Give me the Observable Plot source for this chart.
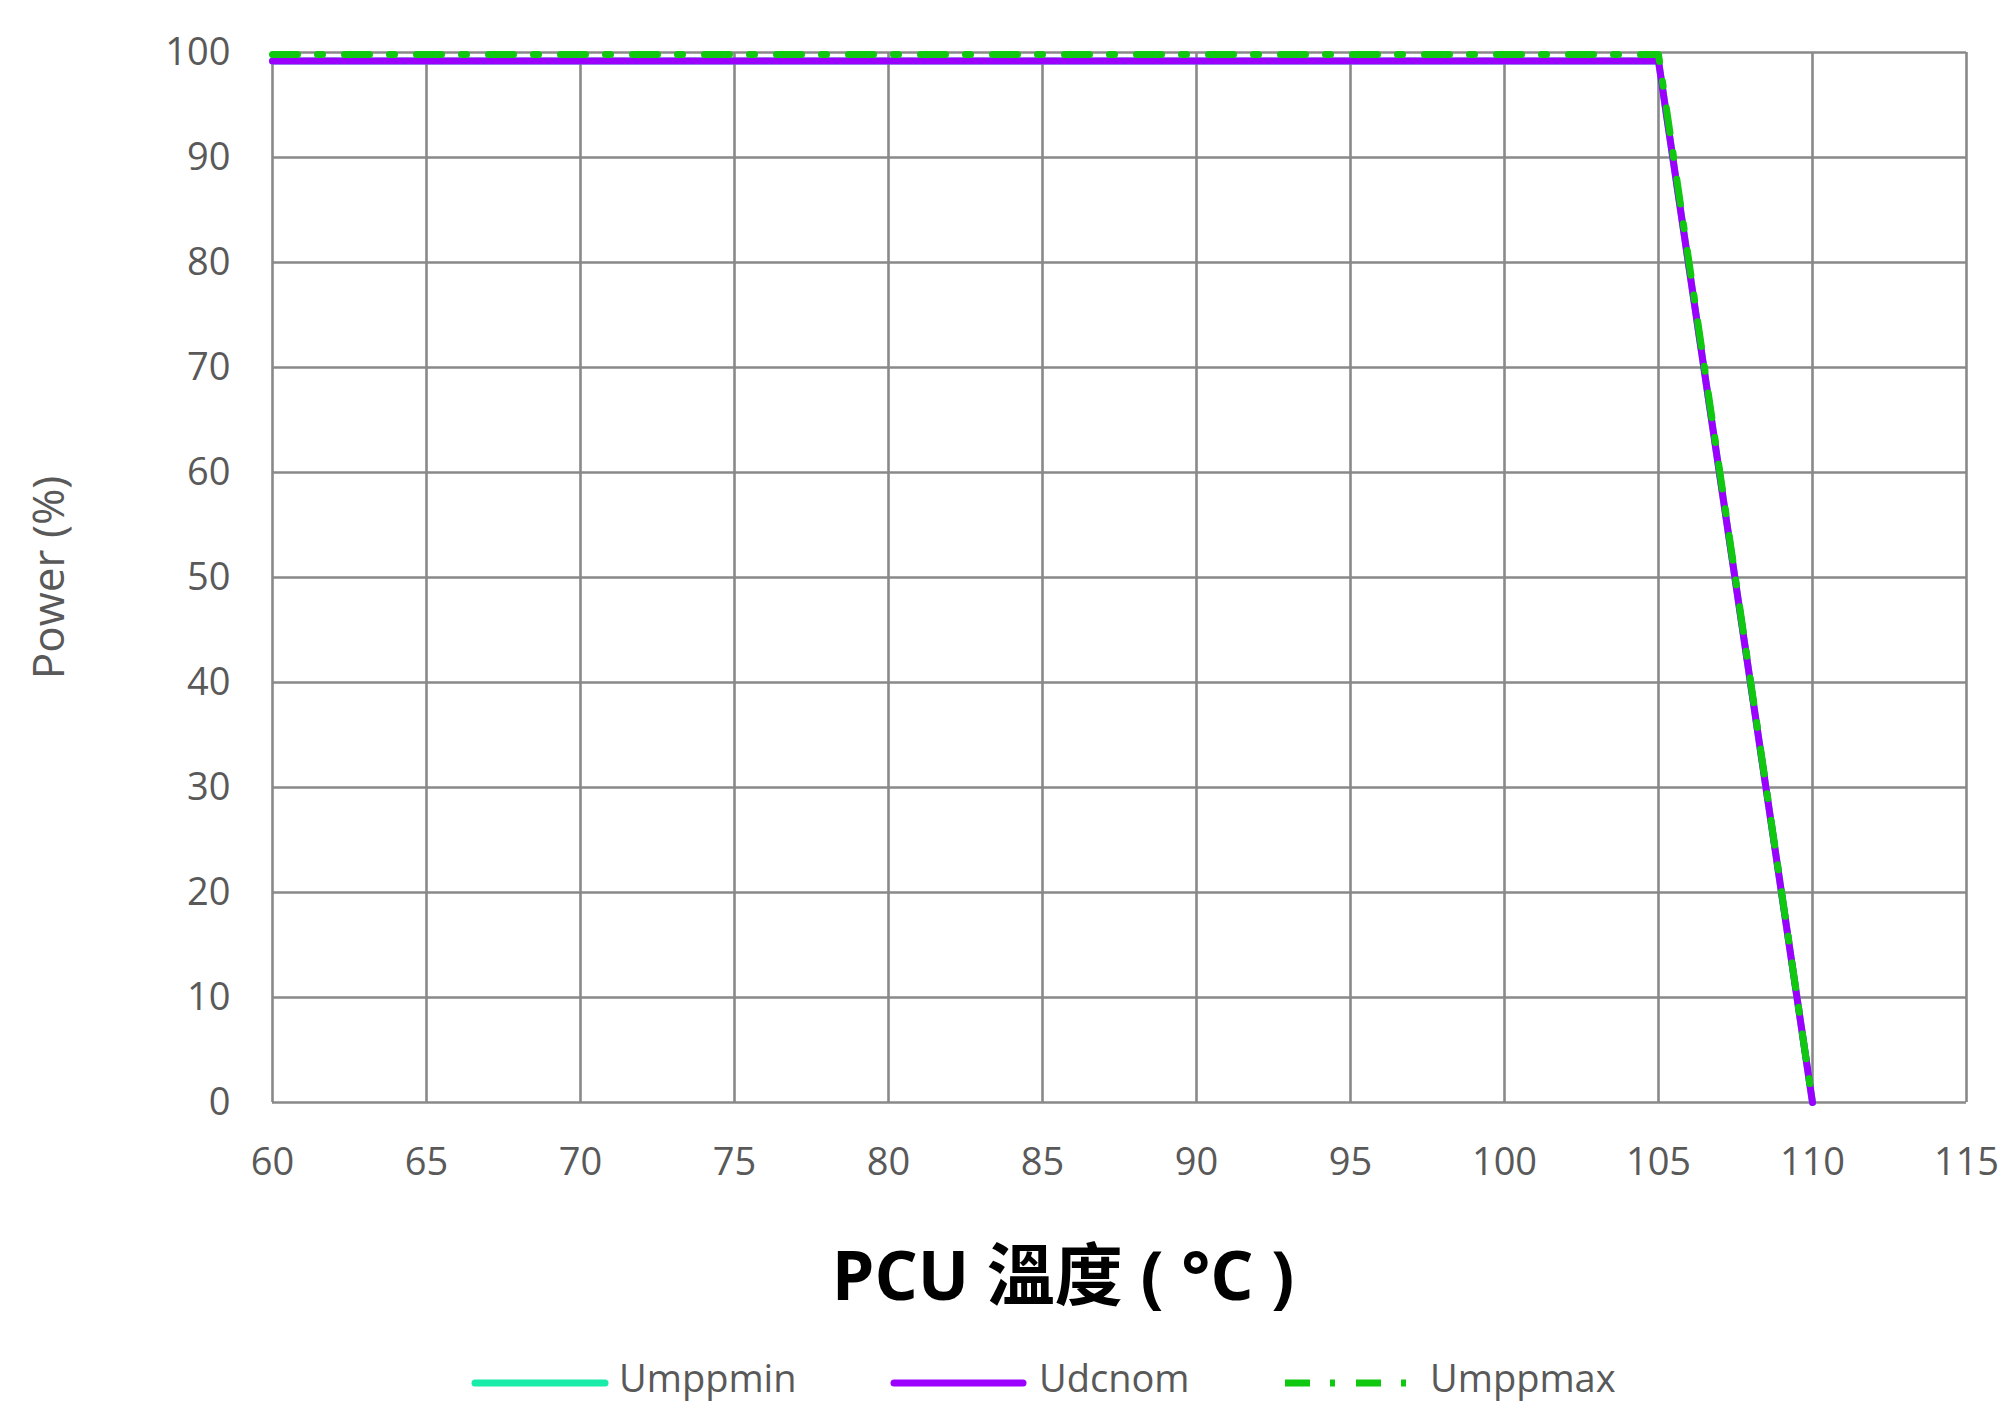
<!DOCTYPE html>
<html>
<head>
<meta charset="utf-8">
<script src="https://cdn.jsdelivr.net/npm/d3@7"></script>
<script src="https://cdn.jsdelivr.net/npm/@observablehq/plot@0.6"></script>
<style>
  html, body { margin: 0; padding: 0; background: #fff; }
  body { width: 2011px; height: 1402px; overflow: hidden; position: relative; font-family: "Open Sans", "Noto Sans CJK TC", sans-serif; }
  #chart { position: absolute; left: 0; top: 0; }
  #below { position: absolute; left: 0; top: 1200px; }
</style>
</head>
<body>
<div id="chart"></div>
<div id="below"></div>
<script>
// ---- data ----
const temps = [60, 105, 110];
const umppmin = [99.2, 99.2, 0];
const udcnom = [99.2, 99.2, 0];
const umppmax = [99.8, 99.8, 0];
const seriesNames = ["Umppmin", "Udcnom", "Umppmax"];
const seriesColors = ["#19EBA8", "#9B00FF", "#10C810"];
const xTicks = [60, 65, 70, 75, 80, 85, 90, 95, 100, 105, 110, 115];
const yTicks = [0, 10, 20, 30, 40, 50, 60, 70, 80, 90, 100];
const xTitle = "PCU 溫度 ( °C )";
const yTitle = "Power (%)";

const seriesValues = [umppmin, udcnom, umppmax];
const rows = seriesNames.map((name, i) => temps.map((t, j) => ({series: name, temp: t, power: seriesValues[i][j]})));

const gridStyle = {stroke: "#898989", strokeOpacity: 1, strokeWidth: 2.6};
const dash = "25,20,5,22";

const chart = Plot.plot({
  width: 2011,
  height: 1200,
  marginTop: 52,
  marginBottom: 98,
  marginLeft: 272,
  marginRight: 45,
  style: {fontFamily: "'Open Sans', sans-serif", fontSize: "38px", color: "#595959", background: "white"},
  x: {domain: [60, 115]},
  y: {domain: [0, 100]},
  marks: [
    Plot.gridX(xTicks, gridStyle),
    Plot.gridY(yTicks, gridStyle),
    Plot.axisX(xTicks, {tickSize: 0, tickPadding: 46, label: null}),
    Plot.axisY(yTicks, {tickSize: 0, tickPadding: 42, label: null}),
    Plot.axisY({ticks: [], label: yTitle, labelAnchor: "center", labelArrow: false, labelOffset: 240, fontSize: 44}),
    Plot.line(rows[0], {x: "temp", y: "power", stroke: seriesColors[0], strokeWidth: 7}),
    Plot.line(rows[1], {x: "temp", y: "power", stroke: seriesColors[1], strokeWidth: 7}),
    Plot.line(rows[2], {x: "temp", y: "power", stroke: seriesColors[2], strokeWidth: 7, strokeDasharray: dash})
  ]
});
document.getElementById("chart").appendChild(chart);

// ---- title and legend below the plot ----
const below = d3.select("#below").append("svg")
  .attr("width", 2011).attr("height", 202)
  .style("font-family", "'Open Sans', 'Noto Sans CJK TC', sans-serif");

below.append("text")
  .attr("x", 1063).attr("y", 100)
  .attr("text-anchor", "middle")
  .attr("font-size", 68).attr("font-weight", "bold").attr("fill", "#000")
  .text(xTitle);

const legendItems = [
  {x0: 475, x1: 605, tx: 619},
  {x0: 894, x1: 1023, tx: 1039},
  {x0: 1285, x1: 1411, tx: 1430}
];
legendItems.forEach((it, i) => {
  below.append("line")
    .attr("x1", it.x0).attr("x2", it.x1).attr("y1", 183).attr("y2", 183)
    .attr("stroke", seriesColors[i]).attr("stroke-width", 7)
    .attr("stroke-linecap", i === 2 ? "butt" : "round")
    .attr("stroke-dasharray", i === 2 ? "25,20,5,21" : null);
  below.append("text")
    .attr("x", it.tx).attr("y", 192)
    .attr("font-size", 38).attr("fill", "#595959")
    .text(seriesNames[i]);
});
</script>
</body>
</html>
